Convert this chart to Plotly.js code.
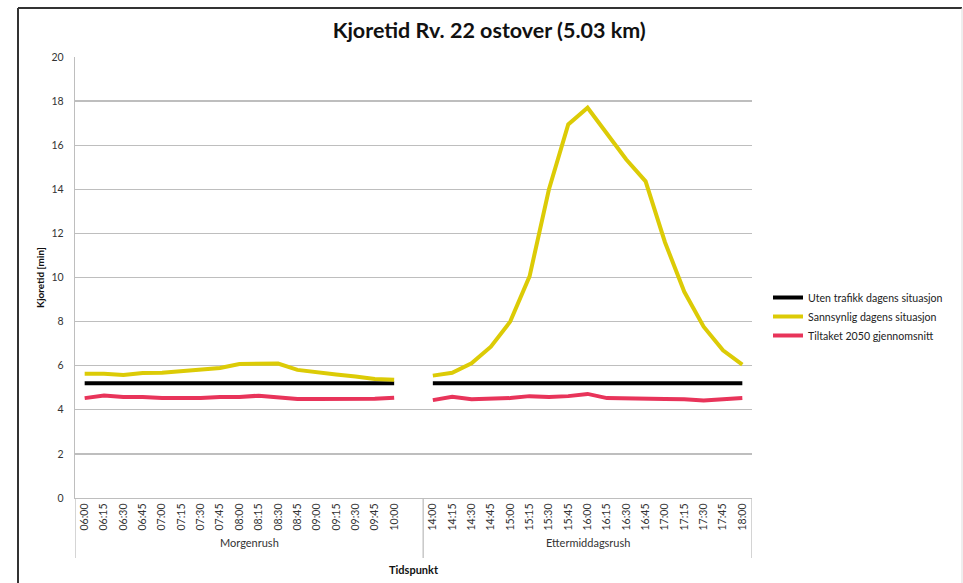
<!DOCTYPE html>
<html>
<head>
<meta charset="utf-8">
<script src="https://cdn.plot.ly/plotly-3.0.1.min.js"></script>
<style>html,body{margin:0;padding:0;background:#fff;}#chart{width:963px;height:583px;}</style>
</head>
<body>
<div id="chart"></div>
<script>
// ---- data ----
const morningTimes = ['06:00','06:15','06:30','06:45','07:00','07:15','07:30','07:45','08:00','08:15','08:30','08:45','09:00','09:15','09:30','09:45','10:00'];
const afternoonTimes = ['14:00','14:15','14:30','14:45','15:00','15:15','15:30','15:45','16:00','16:15','16:30','16:45','17:00','17:15','17:30','17:45','18:00'];
const groupNames = ['Morgenrush', 'Ettermiddagsrush'];
const seriesNames = ['Uten trafikk dagens situasjon', 'Sannsynlig dagens situasjon', 'Tiltaket 2050 gjennomsnitt'];

const utenMorning   = [5.2,5.2,5.2,5.2,5.2,5.2,5.2,5.2,5.2,5.2,5.2,5.2,5.2,5.2,5.2,5.2,5.2];
const utenAfternoon = [5.2,5.2,5.2,5.2,5.2,5.2,5.2,5.2,5.2,5.2,5.2,5.2,5.2,5.2,5.2,5.2,5.2];
const sannMorning   = [5.63,5.63,5.58,5.67,5.68,5.74,5.81,5.9,6.08,6.08,6.1,5.81,5.69,5.6,5.51,5.4,5.36];
const sannAfternoon = [5.55,5.68,6.11,6.86,8.0,10.05,13.99,16.94,17.7,16.56,15.35,14.36,11.6,9.35,7.77,6.7,6.05];
const tiltMorning   = [4.53,4.65,4.58,4.58,4.53,4.53,4.53,4.58,4.58,4.64,4.58,4.49,4.49,4.49,4.49,4.5,4.55];
const tiltAfternoon = [4.44,4.59,4.48,4.51,4.53,4.62,4.58,4.62,4.72,4.53,4.53,4.53,4.49,4.48,4.42,4.48,4.53];

const colors = ['#000000', '#DCCB06', '#E8345A'];

// ---- build ----
const nM = morningTimes.length, nA = afternoonTimes.length;
const nTot = nM + 1 + nA;            // one empty slot between groups
const xs = [];
for (let i = 0; i < nTot; i++) xs.push(i);
const tickText = morningTimes.concat([''], afternoonTimes);
const join = (a, b) => a.concat([null], b);

const ys = [join(utenMorning, utenAfternoon), join(sannMorning, sannAfternoon), join(tiltMorning, tiltAfternoon)];
const traces = ys.map((y, k) => ({
  type: 'scatter', mode: 'lines', x: xs, y: y, name: seriesNames[k],
  line: {color: colors[k], width: 4}, connectgaps: false
}));

const W = 963, H = 583;
const M = {l: 75, r: 211, t: 57, b: 85};
const pw = W - M.l - M.r, ph = H - M.t - M.b;
const px = v => (v - M.l) / pw;
const py = v => (H - M.b - v) / ph;

const font = 'Lato, "Open Sans", sans-serif';
const grey = '#BEBEBE';
const yLow = py(558);

const shapes = [
  // category axis extension & group dividers
  {type:'line', xref:'x', yref:'paper', x0:-0.5, x1:-0.5, y0:0, y1:yLow, line:{color:grey, width:1.3}},
  {type:'line', xref:'x', yref:'paper', x0:nM + 0.5, x1:nM + 0.5, y0:0, y1:yLow, line:{color:grey, width:1.3}},
  {type:'line', xref:'x', yref:'paper', x0:nTot - 0.5, x1:nTot - 0.5, y0:0, y1:yLow, line:{color:grey, width:1.3}},
  // outer frame
  {type:'line', xref:'paper', yref:'paper', x0:px(18), x1:px(962), y0:py(8), y1:py(8), line:{color:'#333', width:2}},
  {type:'line', xref:'paper', yref:'paper', x0:px(18), x1:px(18), y0:py(8), y1:py(590), line:{color:'#333', width:2}},
  {type:'line', xref:'paper', yref:'paper', x0:px(962), x1:px(962), y0:py(8), y1:py(590), line:{color:'#DDD', width:1}}
];

const annotations = [
  {xref:'x', yref:'paper', x:(-0.5 + nM + 0.5) / 2, y:py(551), text:groupNames[0], showarrow:false, font:{family:font, size:11, color:'#333'}},
  {xref:'x', yref:'paper', x:(nM + 0.5 + nTot - 0.5) / 2, y:py(551), text:groupNames[1], showarrow:false, font:{family:font, size:11, color:'#333'}}
];

const layout = {
  width: W, height: H, margin: M,
  paper_bgcolor: '#fff', plot_bgcolor: '#fff',
  title: {text: 'Kjoretid Rv. 22 ostover (5.03 km)', x: 0.508, xanchor: 'center', y: 0.948, yanchor: 'middle',
          font: {family: font, size: 21.5, color: '#111', weight: 700}},
  xaxis: {
    range: [-0.5, nTot - 0.5], tickmode: 'array', tickvals: xs, ticktext: tickText,
    tickangle: -90, ticks: '', showgrid: false, zeroline: false,
    showline: true, linecolor: grey, linewidth: 1.3,
    tickfont: {family: font, size: 10.5, color: '#333'},
    title: {text: 'Tidspunkt', standoff: 36, font: {family: font, size: 11, color: '#111', weight: 700}},
    automargin: false, fixedrange: true
  },
  yaxis: {
    range: [0, 20], dtick: 2, tick0: 0, showgrid: true, gridcolor: grey, gridwidth: 1.3,
    zeroline: false, showline: true, linecolor: grey, linewidth: 1.3, ticks: '',
    ticklabelstandoff: 8,
    tickfont: {family: font, size: 10.5, color: '#333'},
    title: {text: 'Kjoretid [min]', standoff: 5, font: {family: font, size: 10, color: '#111', weight: 700}},
    automargin: false, fixedrange: true
  },
  showlegend: true,
  legend: {x: px(768), y: py(283), xanchor: 'left', yanchor: 'top', bgcolor: 'rgba(0,0,0,0)',
           font: {family: font, size: 10.6, color: '#222'}, itemwidth: 30, tracegroupgap: 0},
  shapes: shapes, annotations: annotations
};

Plotly.newPlot('chart', traces, layout, {displayModeBar: false, staticPlot: true});
</script>
</body>
</html>
